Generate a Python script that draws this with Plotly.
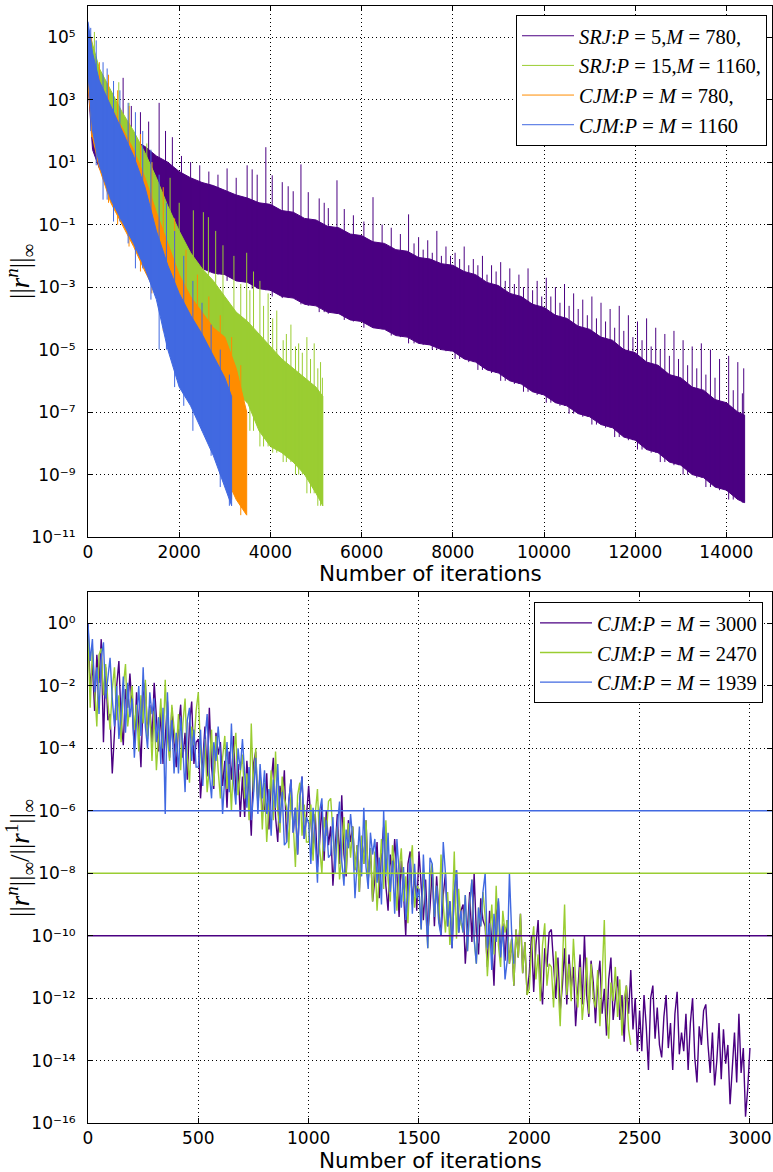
import numpy as np
import plotly.graph_objects as go

# ---------------- top panel: ||r^n||_inf (log10 values) ----------------
INDIGO = "#4B0082"
GREEN = "#9ACD32"
ORANGE = "#FF8C00"
BLUE = "#4169E1"

# SRJ P=5, M=780 : dense band (upper / lower edge) plus isolated spikes
srj5_it = [0, 100, 250, 500, 750, 1000, 1250, 1500, 1750, 2000, 2250, 2500, 2750, 3000, 3250,
           3500, 3750, 4000, 4250, 4500, 4750, 5000, 5250, 5500, 5750, 6000, 6250, 6500, 6750,
           7000, 7250, 7500, 7750, 8000, 8250, 8500, 8750, 9000, 9250, 9500, 9750, 10000,
           10250, 10500, 10750, 11000, 11250, 11500, 11750, 12000, 12250, 12500, 12750, 13000,
           13250, 13500, 13750, 14000, 14250, 14400]
srj5_hi = [5.3, 3.2, 2.6, 2.3, 2.0, 1.7, 1.5, 1.2, 1.0, 0.7, 0.5, 0.35, 0.25, 0.1, -0.05,
           -0.15, -0.3, -0.35, -0.55, -0.6, -0.8, -0.85, -1.05, -1.1, -1.3, -1.35, -1.55, -1.6, -1.8,
           -1.85, -2.05, -2.1, -2.25, -2.3, -2.5, -2.6, -2.85, -2.95, -3.2, -3.3, -3.55, -3.65,
           -3.9, -4.0, -4.25, -4.35, -4.6, -4.7, -5.0, -5.1, -5.4, -5.5, -5.8, -5.9,
           -6.2, -6.3, -6.6, -6.7, -7.0, -7.1]
srj5_lo = [3.5, 1.4, 0.8, 0.3, -0.2, -0.6, -1.0, -1.4, -1.8, -2.2, -2.35, -2.4, -2.55, -2.6, -2.8,
           -2.85, -3.05, -3.1, -3.3, -3.35, -3.55, -3.6, -3.8, -3.85, -4.05, -4.1, -4.3, -4.35, -4.55,
           -4.6, -4.8, -4.85, -5.0, -5.05, -5.3, -5.4, -5.65, -5.75, -6.0, -6.1, -6.35, -6.45,
           -6.7, -6.8, -7.05, -7.15, -7.4, -7.5, -7.8, -7.9, -8.2, -8.3, -8.6, -8.7,
           -9.0, -9.1, -9.4, -9.5, -9.8, -9.9]
srj5_spk_it = [400, 560, 770, 950, 1150, 1330, 1560, 1700, 1850, 2050, 2250, 2450, 2650, 2850, 3050,
               3250, 3490, 3600, 3710, 3900, 4040, 4260, 4390, 4500, 4670, 4830, 5070, 5180, 5270,
               5460, 5620, 5820, 6050, 6250, 6450, 6650, 6850, 7030, 7250, 7450, 7650, 7850, 8050,
               8250, 8450, 8650, 8850, 9050, 9250, 9450, 9650, 9850, 10050, 10250, 10450, 10650,
               10850, 11050, 11250, 11450, 11650, 11850, 12050, 12250, 12450, 12650, 12850, 13050,
               13250, 13450, 13650, 13850, 14050, 14250, 14380,
               7150, 7350, 7550, 7750, 7950, 8150, 8350, 8550, 8750, 8950, 9150, 9350, 9550, 9750,
               9950, 10150, 10350, 10550, 10750, 10950, 11150, 11350, 11550, 11750, 11950, 12150,
               12350, 12550, 12750, 12950, 13150, 13350, 13550, 13750, 14150, 14350]
srj5_spk = [3.2, 3.0, 3.7, 2.8, 2.6, 2.3, 2.9, 2.0, 1.8, 1.2, 1.0, 0.9, 0.7, 0.6, 0.8,
            0.5, 0.9, 0.77, 0.6, 1.48, 0.58, 0.36, 0.23, 0.07, 0.93, 0.04, -0.16, -0.3, -0.47,
            0.42, -0.5, -0.7, -0.9, -0.12, -1.0, -1.1, -1.3, -0.67, -1.4, -1.5, -1.2, -1.7, -1.9,
            -1.7, -2.1, -2.0, -2.3, -2.2, -2.4, -2.6, -2.4, -2.8, -2.7, -3.0, -2.9, -3.2,
            -3.4, -3.3, -3.5, -3.7, -3.6, -3.9, -4.1, -4.0, -4.3, -4.5, -4.4, -4.7,
            -4.9, -4.8, -5.0, -5.3, -5.2, -5.4, -5.6,
            -1.6, -1.8, -1.9, -2.0, -2.0, -2.1, -2.3, -2.3, -2.6, -2.5, -2.8, -2.9, -3.0, -3.1,
            -3.3, -3.3, -3.5, -3.6, -3.7, -3.9, -4.0, -4.1, -4.3, -4.4, -4.6, -4.7,
            -4.9, -5.0, -5.2, -5.3, -5.5, -5.6, -5.8, -5.9, -6.3, -6.4]

# SRJ P=15, M=1160
srj15_it = [0, 250, 500, 750, 1000, 1250, 1500, 1750, 2000, 2250, 2500, 2750, 3000, 3250, 3500,
            3750, 4000, 4250, 4500, 4750, 5000, 5150]
srj15_hi = [5.3, 4.0, 3.3, 2.6, 2.0, 1.3, 0.5, -0.4, -1.2, -1.9, -2.4, -2.8, -3.3, -3.8, -4.1,
            -4.5, -4.9, -5.3, -5.6, -5.9, -6.2, -6.5]
srj15_lo = [3.5, 1.5, 0.8, 0.0, -0.6, -1.2, -1.8, -2.6, -3.4, -4.2, -4.8, -5.3, -5.8, -6.4, -6.7,
            -7.6, -8.1, -8.3, -8.6, -9.0, -9.6, -10.0]
srj15_spk_it = [140, 390, 675, 900, 1140, 1290, 1400, 1800, 2000, 2310, 2530, 2640, 2800, 2960, 3200,
                3480, 3630, 3770, 3950, 4140, 4280, 4450, 4620, 4800, 4960, 5100, 5140,
                3350, 3550, 3850, 4050, 4350, 4550, 4700, 4880, 5040]
srj15_spk = [5.17, 3.3, 3.56, 2.9, 1.6, 1.6, 1.0, 0.5, -0.3, -0.54, -0.6, -0.76, -1.2, -1.66, -2.0,
             -1.9, -2.5, -2.8, -3.2, -3.75, -4.7, -4.2, -4.8, -4.6, -4.8, -5.4, -5.9,
             -2.9, -3.1, -3.6, -4.0, -4.5, -4.9, -5.1, -5.3, -5.6]

# CJM P=M=780
cjm780_it = [0, 100, 250, 500, 750, 1000, 1250, 1500, 1750, 2000, 2250, 2500, 2750, 3000, 3250, 3480]
cjm780_hi = [5.3, 4.3, 3.6, 2.8, 2.1, 1.4, 0.5, -0.6, -1.6, -2.6, -3.3, -3.8, -4.3, -4.6, -5.6, -7.0]
cjm780_lo = [3.5, 1.8, 0.8, -0.3, -1.0, -1.7, -2.5, -3.2, -4.4, -5.4, -6.3, -7.2, -8.0, -9.0, -9.8, -10.3]
cjm780_spk_it = [80, 250, 450, 650, 900, 1150, 1400, 1650, 1900, 2150, 2400, 2650, 2900, 3150, 3350]
cjm780_spk = [5.0, 4.2, 3.8, 3.3, 2.8, 1.9, 1.0, 0.2, -0.8, -1.8, -2.6, -3.3, -3.9, -4.6, -5.5]

# CJM P=M=1160
cjm1160_it = [0, 100, 250, 500, 750, 1000, 1250, 1500, 1750, 2000, 2250, 2500, 2750, 3000, 3150]
cjm1160_hi = [5.5, 4.5, 3.6, 2.8, 2.0, 1.2, 0.2, -1.2, -2.3, -3.2, -3.9, -4.5, -5.2, -5.9, -6.5]
cjm1160_lo = [3.8, 2.0, 0.9, -0.2, -0.9, -1.6, -2.4, -3.4, -5.0, -6.2, -6.8, -7.6, -8.4, -9.4, -10.0]
cjm1160_spk_it = [60, 180, 330, 420, 560, 700, 880, 1040, 1200, 1380, 1560, 1720, 1900, 2100, 2300,
                  2500, 2700, 2900, 3100]
cjm1160_spk = [5.3, 4.9, 4.2, 4.0, 3.6, 3.3, 2.9, 2.6, 2.0, 1.4, 0.6, -0.3, -1.2, -2.0, -2.8,
               -3.5, -4.2, -5.0, -5.8]

top_series = [
    ("<i>SRJ</i>:<i>P</i> = 5,<i>M</i> = 780,", INDIGO, srj5_it, srj5_hi, srj5_lo, srj5_spk_it, srj5_spk),
    ("<i>SRJ</i>:<i>P</i> = 15,<i>M</i> = 1160,", GREEN, srj15_it, srj15_hi, srj15_lo, srj15_spk_it, srj15_spk),
    ("<i>CJM</i>:<i>P</i> = <i>M</i> = 780,", ORANGE, cjm780_it, cjm780_hi, cjm780_lo, cjm780_spk_it, cjm780_spk),
    ("<i>CJM</i>:<i>P</i> = <i>M</i> = 1160", BLUE, cjm1160_it, cjm1160_hi, cjm1160_lo, cjm1160_spk_it, cjm1160_spk),
]

# ---------------- bottom panel: ||r^n|| / ||r^1|| (log10 values, every 10 iterations) ----------------
STEP = 10
cjm3000 = [
    0.0, -2.1, -1.3, -2.8, -1.0, -1.9, -0.5, -3.8, -1.4, -3.1,
    -2.9, -4.8, -3.5, -2.0, -1.2, -3.1, -3.9, -2.1, -2.7, -1.6,
    -2.7, -4.0, -2.2, -3.2, -4.6, -2.3, -1.9, -3.6, -2.6, -3.8,
    -1.9, -3.2, -4.1, -2.8, -4.5, -3.7, -2.5, -4.3, -2.7, -3.8,
    -4.6, -3.3, -2.6, -4.3, -3.5, -5.0, -3.2, -2.5, -4.5, -3.8,
    -3.7, -5.6, -4.4, -3.3, -4.9, -2.7, -4.6, -5.3, -3.5, -4.2,
    -3.8, -5.2, -4.4, -5.9, -4.1, -5.0, -3.6, -5.5, -4.5, -6.2,
    -4.9, -6.2, -4.4, -5.4, -6.8, -4.5, -4.1, -5.8, -4.8, -6.0,
    -6.0, -4.8, -6.6, -5.1, -4.3, -6.2, -7.0, -5.2, -5.8, -4.7,
    -7.0, -5.7, -5.0, -6.7, -5.9, -7.4, -5.6, -4.9, -6.9, -6.2,
    -5.2, -6.5, -7.4, -6.1, -7.8, -7.0, -5.8, -7.6, -6.0, -7.1,
    -6.5, -8.4, -7.2, -6.1, -7.7, -5.5, -7.4, -8.1, -6.3, -7.0,
    -6.5, -7.9, -7.1, -8.6, -6.8, -7.7, -6.3, -8.2, -7.2, -8.9,
    -8.2, -7.0, -8.8, -7.3, -6.5, -8.4, -9.2, -7.4, -8.0, -6.9,
    -8.0, -9.4, -7.6, -8.6, -10.0, -7.7, -7.3, -9.0, -8.0, -9.2,
    -7.3, -8.6, -9.5, -8.2, -9.9, -9.1, -7.9, -9.7, -8.1, -9.2,
    -10.0, -8.7, -8.0, -9.7, -8.9, -10.4, -8.6, -7.9, -9.9, -9.2,
    -9.0, -10.9, -9.7, -8.6, -10.2, -8.0, -9.9, -10.6, -8.8, -9.5,
    -9.7, -11.0, -9.2, -10.2, -11.6, -9.3, -8.9, -10.6, -9.6, -10.8,
    -9.5, -10.9, -10.1, -11.6, -9.8, -10.7, -9.3, -11.2, -10.2, -11.9,
    -11.2, -10.0, -11.8, -10.3, -9.5, -11.4, -12.2, -10.4, -11.0, -9.9,
    -9.8, -11.1, -12.0, -10.7, -12.4, -11.6, -10.4, -12.2, -10.6, -11.7,
    -11.0, -12.9, -11.7, -10.6, -12.2, -10.0, -11.9, -12.6, -10.8, -11.5,
    -12.8, -11.5, -10.8, -12.5, -11.7, -13.2, -11.4, -10.7, -12.7, -12.0,
    -11.3, -12.7, -11.9, -13.4, -11.6, -12.5, -11.1, -13.0, -12.0, -13.7,
    -12.4, -13.7, -11.9, -12.9, -14.3, -12.0, -11.6, -13.3, -12.3, -13.5,
    -13.9, -12.6, -11.9, -13.6, -12.8, -14.3, -12.5, -11.8, -13.8, -13.1,
    -13.7, -12.5, -14.3, -12.8, -12.0, -13.9, -14.7, -12.9, -13.5, -12.4,
    -12.2, -13.5, -14.4, -13.1, -14.8, -14.0, -12.8, -14.6, -13.0, -14.1,
    -13.5, -15.4, -14.2, -13.1, -14.7, -12.5, -14.4, -13.6, -15.8, -14.9,
    -13.6,
]
cjm2470 = [
    -0.3, -2.7, -0.8, -1.9, -3.3, -1.0, -0.8, -2.3, -1.3, -2.5,
    -3.4, -2.1, -1.4, -3.1, -2.3, -3.8, -2.0, -1.3, -3.3, -2.6,
    -2.0, -3.4, -2.6, -4.1, -2.3, -3.2, -1.8, -3.7, -2.7, -4.4,
    -2.8, -4.7, -3.5, -2.4, -4.0, -1.8, -3.7, -4.4, -2.6, -3.3,
    -4.1, -2.9, -4.7, -3.2, -2.4, -4.3, -5.1, -3.3, -3.9, -2.8,
    -2.2, -4.1, -5.0, -3.7, -5.4, -4.6, -3.4, -5.2, -3.6, -4.7,
    -5.6, -4.3, -3.6, -5.3, -4.5, -6.0, -4.2, -3.5, -5.5, -4.8,
    -4.2, -5.6, -4.8, -6.3, -3.2, -5.4, -4.0, -5.9, -4.9, -6.6,
    -5.1, -7.0, -5.8, -4.7, -6.3, -4.1, -6.0, -6.7, -4.9, -5.6,
    -5.9, -7.2, -5.4, -6.4, -7.8, -5.5, -5.1, -6.8, -5.8, -7.0,
    -7.0, -5.8, -7.6, -6.1, -5.3, -7.2, -8.0, -6.2, -6.8, -5.7,
    -5.6, -6.9, -7.8, -6.5, -8.2, -7.4, -6.2, -8.0, -6.4, -7.5,
    -6.5, -7.9, -7.1, -8.6, -6.8, -7.7, -6.3, -8.2, -7.2, -8.9,
    -7.3, -9.2, -8.0, -6.9, -8.5, -6.3, -8.2, -8.9, -7.1, -7.8,
    -9.2, -7.9, -7.2, -8.9, -8.1, -9.6, -7.8, -7.1, -9.1, -8.4,
    -8.5, -9.8, -8.0, -9.0, -10.4, -8.1, -7.7, -9.4, -8.4, -9.6,
    -7.4, -9.0, -9.9, -8.6, -10.3, -9.5, -7.3, -10.1, -8.5, -9.6,
    -9.9, -8.7, -10.5, -9.0, -8.2, -10.1, -10.9, -9.1, -9.7, -8.6,
    -9.4, -11.3, -10.1, -9.0, -10.6, -8.4, -10.3, -11.0, -9.2, -9.9,
    -9.5, -10.9, -10.1, -11.6, -9.8, -10.7, -9.3, -11.2, -10.2, -11.9,
    -11.7, -10.4, -9.7, -11.4, -10.6, -12.1, -10.3, -9.6, -11.6, -10.9,
    -11.0, -12.3, -10.5, -11.5, -12.9, -10.6, -9.0, -11.9, -10.9, -12.1,
    -10.1, -11.4, -12.3, -11.0, -12.7, -11.9, -10.7, -12.5, -10.9, -12.0,
    -12.3, -11.1, -12.9, -11.4, -9.5, -12.5, -13.3, -11.5, -12.1, -11.0,
    -12.6, -11.4, -13.2, -12.0, -11.6, -13.0, -13.5,
]
cjm1939 = [
    0.0, -1.2, -0.5, -2.2, -1.4, -2.9, -1.1, -0.6, -2.4, -1.7,
    -1.1, -2.4, -3.3, -2.0, -3.7, -2.9, -1.7, -3.5, -1.9, -3.0,
    -2.4, -4.3, -3.1, -2.0, -3.6, -1.4, -3.3, -4.0, -2.2, -2.9,
    -2.4, -3.8, -3.0, -4.5, -2.7, -6.1, -2.2, -4.1, -3.1, -4.8,
    -3.5, -4.8, -3.0, -4.0, -5.4, -3.1, -2.7, -4.4, -3.4, -4.6,
    -4.6, -3.4, -5.2, -3.7, -2.9, -4.8, -5.6, -3.8, -4.4, -3.3,
    -4.2, -6.1, -4.9, -3.8, -5.4, -3.2, -5.1, -5.8, -4.0, -4.7,
    -3.7, -5.0, -5.9, -4.6, -6.3, -5.5, -4.3, -6.1, -4.5, -5.6,
    -4.7, -6.1, -5.3, -6.8, -5.0, -5.9, -4.5, -6.4, -5.4, -7.1,
    -7.0, -5.7, -5.0, -6.7, -5.9, -7.4, -5.6, -4.9, -6.9, -6.2,
    -6.4, -7.7, -5.9, -6.9, -8.3, -6.0, -5.6, -7.3, -6.3, -7.5,
    -7.4, -6.2, -8.0, -6.5, -5.7, -7.6, -8.4, -6.6, -7.2, -6.1,
    -6.9, -8.8, -7.6, -6.5, -8.1, -5.9, -7.8, -8.5, -6.7, -7.4,
    -6.9, -8.3, -7.5, -9.0, -6.0, -8.1, -6.7, -8.6, -7.6, -9.3,
    -6.9, -8.2, -9.1, -7.8, -9.5, -8.7, -7.5, -9.3, -7.7, -8.8,
    -8.5, -9.8, -7.4, -9.0, -10.4, -7.5, -7.7, -9.4, -8.4, -9.6,
    -10.0, -7.0, -8.0, -9.7, -8.9, -10.4, -8.6, -7.9, -9.9, -9.2,
    -9.9, -8.7, -10.5, -9.0, -8.2, -10.1, -10.9, -9.1, -9.7, -8.6,
    -8.0, -10.4, -9.6, -11.1, -9.3, -10.2, -8.8, -10.7, -9.7, -11.4,
    -10.8, -8.0, -9.9, -10.9,
]
bottom_series = [
    ("<i>CJM</i>:<i>P</i> = <i>M</i> = 3000", INDIGO, cjm3000),
    ("<i>CJM</i>:<i>P</i> = <i>M</i> = 2470", GREEN, cjm2470),
    ("<i>CJM</i>:<i>P</i> = <i>M</i> = 1939", BLUE, cjm1939),
]
# stopping tolerances drawn as horizontal rules
tol_levels = [-6, -8, -10]
tol_colors = [BLUE, GREEN, INDIGO]

top_xticks = [0, 2000, 4000, 6000, 8000, 10000, 12000, 14000]
top_yexp = [5, 3, 1, -1, -3, -5, -7, -9, -11]
bot_xticks = [0, 500, 1000, 1500, 2000, 2500, 3000]
bot_yexp = [0, -2, -4, -6, -8, -10, -12, -14, -16]

SUPERSCRIPT = str.maketrans("0123456789-", "⁰¹²³⁴⁵⁶⁷⁸⁹⁻")


def pow10_label(e):
    return "10" + str(e).translate(SUPERSCRIPT)


fig = go.Figure()

for name, color, it, hi, lo, spk_it, spk in top_series:
    px = list(it) + list(it)[::-1]
    py = list(10.0 ** np.array(hi)) + list(10.0 ** np.array(lo))[::-1]
    fig.add_trace(go.Scatter(x=px, y=py, mode="lines", fill="toself", fillcolor=color,
                             line=dict(color=color, width=1), hoverinfo="skip",
                             showlegend=False, legendgroup=name, xaxis="x", yaxis="y"))
    sx, sy = [], []
    for s, v in zip(spk_it, spk):
        k = min(int(np.searchsorted(it, s)), len(it) - 1)
        sx += [s, s, None]
        sy += [10.0 ** lo[k], 10.0 ** v, None]
    fig.add_trace(go.Scatter(x=sx, y=sy, mode="lines", line=dict(color=color, width=1),
                             name=name, legendgroup=name, legend="legend",
                             xaxis="x", yaxis="y"))

for name, color, vals in bottom_series:
    xs = list(range(0, STEP * len(vals), STEP))
    fig.add_trace(go.Scatter(x=xs, y=10.0 ** np.array(vals), mode="lines",
                             line=dict(color=color, width=1.4), name=name, legendgroup=name,
                             legend="legend2", xaxis="x2", yaxis="y2"))

for lvl, color in zip(tol_levels, tol_colors):
    fig.add_trace(go.Scatter(x=[0, 3100], y=[10.0 ** lvl, 10.0 ** lvl], mode="lines",
                             line=dict(color=color, width=1.5), showlegend=False,
                             hoverinfo="skip", xaxis="x2", yaxis="y2"))

axis_common = dict(showline=True, linecolor="black", linewidth=1, mirror="allticks",
                   ticks="inside", ticklen=5, tickcolor="black", showgrid=True,
                   gridcolor="black", gridwidth=1, griddash="1px,3px", zeroline=False,
                   tickfont=dict(family="DejaVu Sans", size=17, color="black"))

TOP_DOM = [0.5246, 1.0]
BOT_DOM = [0.0, 0.4751]
LEGEND_FONT = dict(family="Liberation Serif", size=20.5, color="black")

fig.update_layout(
    width=773, height=1172,
    margin=dict(l=88, r=1, t=6, b=49),
    paper_bgcolor="white", plot_bgcolor="white",
    xaxis=dict(domain=[0, 1], anchor="y", range=[0, 15000], tickvals=top_xticks,
               ticktext=[str(v) for v in top_xticks], ticklabelstandoff=0, **axis_common),
    yaxis=dict(domain=TOP_DOM, anchor="x", type="log", range=[-11, 6],
               tickvals=[10.0 ** e for e in top_yexp],
               ticktext=[pow10_label(e) for e in top_yexp], ticklabelstandoff=8,
               **axis_common),
    xaxis2=dict(domain=[0, 1], anchor="y2", range=[0, 3100], tickvals=bot_xticks,
                ticktext=[str(v) for v in bot_xticks], ticklabelstandoff=0, **axis_common),
    yaxis2=dict(domain=BOT_DOM, anchor="x2", type="log", range=[-16, 1],
                tickvals=[10.0 ** e for e in bot_yexp],
                ticktext=[pow10_label(e) for e in bot_yexp], ticklabelstandoff=8,
                **axis_common),
    legend=dict(x=0.9927, y=0.992, xanchor="right", yanchor="top", bgcolor="white",
                bordercolor="black", borderwidth=1, tracegroupgap=0, itemwidth=52,
                font=LEGEND_FONT),
    legend2=dict(x=0.9868, y=0.4664, xanchor="right", yanchor="top", bgcolor="white",
                 bordercolor="black", borderwidth=1, tracegroupgap=0, itemwidth=52,
                 font=LEGEND_FONT),
    showlegend=True,
    annotations=[
        dict(text="Number of iterations", x=0.5, y=(1123 - 574) / 1117,
             xref="paper", yref="paper", showarrow=False, xanchor="center", yanchor="middle",
             font=dict(family="DejaVu Sans", size=21.5, color="black")),
        dict(text="Number of iterations", x=0.5, y=(1123 - 1160) / 1117, xref="paper", yref="paper",
             showarrow=False, xanchor="center", yanchor="middle",
             font=dict(family="DejaVu Sans", size=21.5, color="black")),
        dict(text="||<i>r</i><sup><i>n</i></sup>||<sub>∞</sub>", x=-68 / 684, y=(1123 - 272) / 1117,
             xref="paper", yref="paper", showarrow=False, textangle=-90,
             xanchor="center", yanchor="middle",
             font=dict(family="Liberation Serif", size=27, color="black")),
        dict(text="||<i>r</i><sup><i>n</i></sup>||<sub>∞</sub>/||<i>r</i><sup>1</sup>||<sub>∞</sub>",
             x=-68 / 684, y=(1123 - 858) / 1117,
             xref="paper", yref="paper", showarrow=False, textangle=-90,
             xanchor="center", yanchor="middle",
             font=dict(family="Liberation Serif", size=27, color="black")),
    ],
)

fig.write_html("out.html")
